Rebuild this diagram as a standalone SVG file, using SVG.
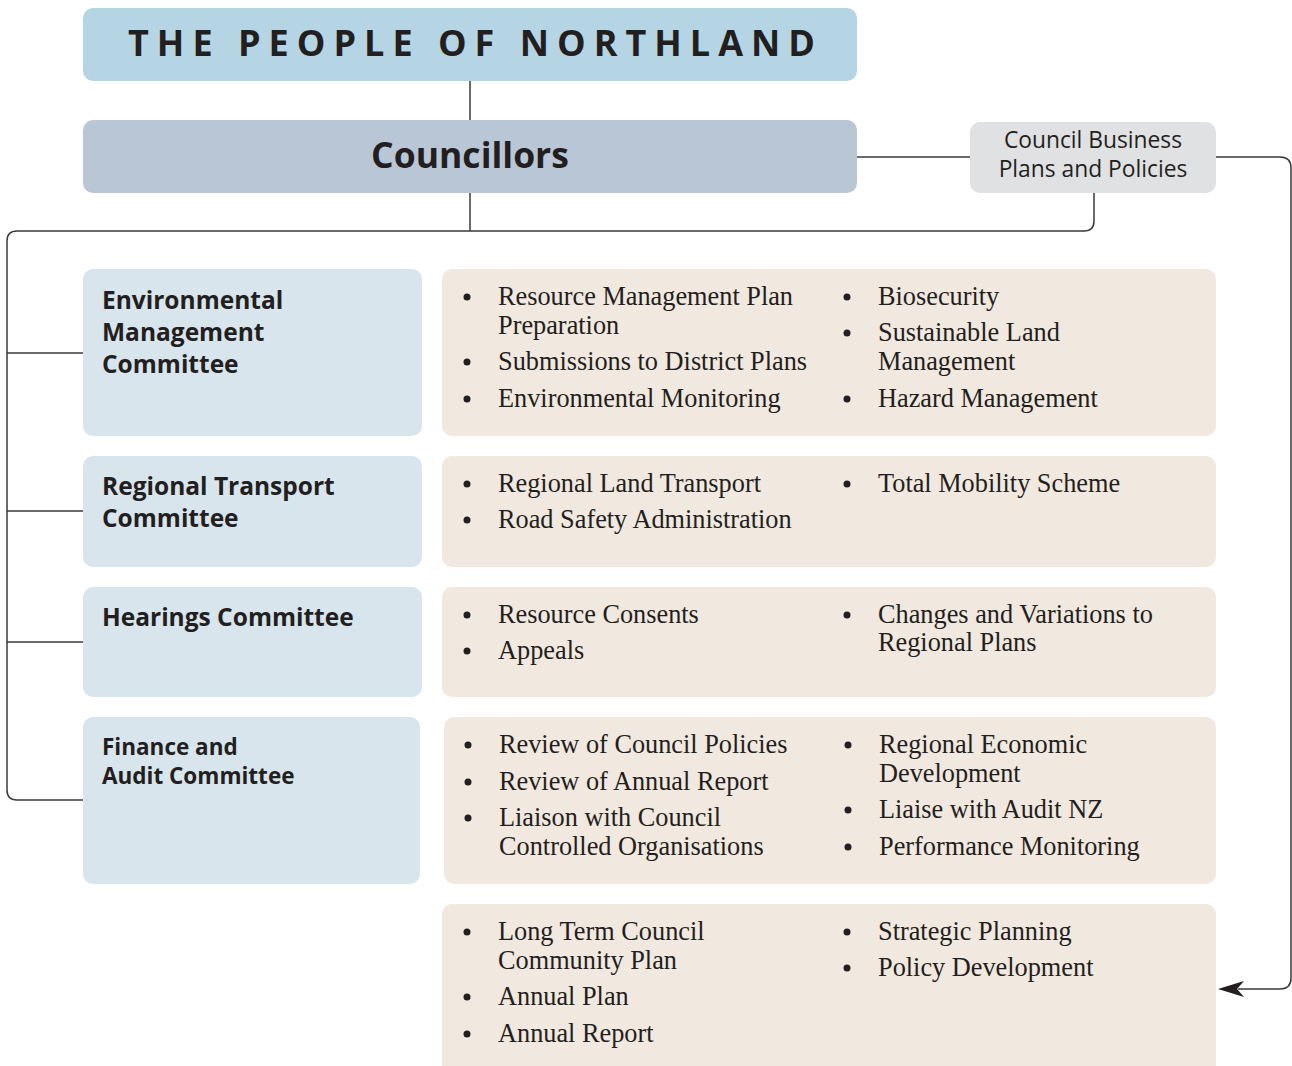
<svg xmlns="http://www.w3.org/2000/svg" width="1292" height="1066" viewBox="0 0 1292 1066">
<style>
.conn{fill:none;stroke:#3a3a3a;stroke-width:1.5}
.cm{fill:#d8e5ed}
.ct{fill:#f1e8df}
.h{font-family:"Open Sans","Noto Sans",sans-serif;font-weight:bold;fill:#231f20}
.b{font-family:"Liberation Serif","DejaVu Serif",serif;font-size:26.3px;fill:#231f20}
.d{fill:#231f20}
</style>
<g id="connectors">
<line class="conn" x1="470" y1="81" x2="470" y2="120"/>
<line class="conn" x1="470" y1="193" x2="470" y2="231"/>
<line class="conn" x1="857" y1="157" x2="970" y2="157"/>
<path class="conn" d="M1094,193 V221 Q1094,231 1084,231 H17 Q7,231 7,241 V790 Q7,800 17,800 H83"/>
<line class="conn" x1="7" y1="353" x2="83" y2="353"/>
<line class="conn" x1="7" y1="511" x2="83" y2="511"/>
<line class="conn" x1="7" y1="642" x2="83" y2="642"/>
<path class="conn" d="M1216,157 H1280 Q1291,157 1291,168 V978 Q1291,989 1280,989 H1238"/>
<path d="M1218,989 L1244,981 L1237,989 L1244,997 Z" fill="#231f20"/>
</g>
<g id="people">
<rect x="83" y="8" width="774" height="73" rx="10" fill="#b5d5e4"/>
<text class="h" x="128" y="56" font-size="36" textLength="687" lengthAdjust="spacing">THE PEOPLE OF NORTHLAND</text>
</g>
<g id="councillors">
<rect x="83" y="120" width="774" height="73" rx="10" fill="#b8c6d6"/>
<text class="h" x="470" y="168" font-size="35.5" text-anchor="middle">Councillors</text>
</g>
<g id="business">
<rect x="970" y="122" width="246" height="71" rx="10" fill="#e0e1e3"/>
<text x="1093" y="148" font-family="'Open Sans','Noto Sans',sans-serif" font-size="22.8" fill="#231f20" text-anchor="middle">Council Business</text>
<text x="1093" y="177" font-family="'Open Sans','Noto Sans',sans-serif" font-size="22.8" fill="#231f20" text-anchor="middle">Plans and Policies</text>
</g>
<g id="env">
<rect class="cm" x="83" y="269" width="339" height="167" rx="10"/>
<text class="h" font-size="24.5"><tspan x="102" y="309">Environmental</tspan><tspan x="102" y="341">Management</tspan><tspan x="102" y="373">Committee</tspan></text>
</g>
<g id="env-items">
<rect class="ct" x="442" y="269" width="774" height="167" rx="10"/>
<circle class="d" cx="467" cy="297" r="3.5"/><circle class="d" cx="467" cy="362" r="3.5"/><circle class="d" cx="467" cy="399" r="3.5"/>
<circle class="d" cx="847" cy="297" r="3.5"/><circle class="d" cx="847" cy="333" r="3.5"/><circle class="d" cx="847" cy="399" r="3.5"/>
<text class="b"><tspan x="498" y="305">Resource Management Plan</tspan><tspan x="498" y="334">Preparation</tspan><tspan x="498" y="370">Submissions to District Plans</tspan><tspan x="498" y="407">Environmental Monitoring</tspan></text>
<text class="b"><tspan x="878" y="305">Biosecurity</tspan><tspan x="878" y="341">Sustainable Land</tspan><tspan x="878" y="370">Management</tspan><tspan x="878" y="407">Hazard Management</tspan></text>
</g>
<g id="transport">
<rect class="cm" x="83" y="456" width="339" height="111" rx="10"/>
<text class="h" font-size="24.5"><tspan x="102" y="495">Regional Transport</tspan><tspan x="102" y="527">Committee</tspan></text>
</g>
<g id="transport-items">
<rect class="ct" x="442" y="456" width="774" height="111" rx="10"/>
<circle class="d" cx="467" cy="484" r="3.5"/><circle class="d" cx="467" cy="520" r="3.5"/><circle class="d" cx="847" cy="484" r="3.5"/>
<text class="b"><tspan x="498" y="492">Regional Land Transport</tspan><tspan x="498" y="528">Road Safety Administration</tspan></text>
<text class="b" x="878" y="492">Total Mobility Scheme</text>
</g>
<g id="hearings">
<rect class="cm" x="83" y="587" width="339" height="110" rx="10"/>
<text class="h" font-size="24.5" x="102" y="626">Hearings Committee</text>
</g>
<g id="hearings-items">
<rect class="ct" x="442" y="587" width="774" height="110" rx="10"/>
<circle class="d" cx="467" cy="615" r="3.5"/><circle class="d" cx="467" cy="651" r="3.5"/><circle class="d" cx="847" cy="615" r="3.5"/>
<text class="b"><tspan x="498" y="623">Resource Consents</tspan><tspan x="498" y="659">Appeals</tspan></text>
<text class="b"><tspan x="878" y="623">Changes and Variations to</tspan><tspan x="878" y="651">Regional Plans</tspan></text>
</g>
<g id="finance">
<rect class="cm" x="83" y="717" width="337" height="167" rx="10"/>
<text class="h" font-size="22.5"><tspan x="102" y="755">Finance and</tspan><tspan x="102" y="784">Audit Committee</tspan></text>
</g>
<g id="finance-items">
<rect class="ct" x="444" y="717" width="772" height="167" rx="10"/>
<circle class="d" cx="468" cy="745" r="3.5"/><circle class="d" cx="468" cy="782" r="3.5"/><circle class="d" cx="468" cy="818" r="3.5"/>
<circle class="d" cx="848" cy="745" r="3.5"/><circle class="d" cx="848" cy="810" r="3.5"/><circle class="d" cx="848" cy="847" r="3.5"/>
<text class="b"><tspan x="499" y="753">Review of Council Policies</tspan><tspan x="499" y="790">Review of Annual Report</tspan><tspan x="499" y="826">Liaison with Council</tspan><tspan x="499" y="855">Controlled Organisations</tspan></text>
<text class="b"><tspan x="879" y="753">Regional Economic</tspan><tspan x="879" y="782">Development</tspan><tspan x="879" y="818">Liaise with Audit NZ</tspan><tspan x="879" y="855">Performance Monitoring</tspan></text>
</g>
<g id="council-items">
<rect class="ct" x="442" y="904" width="774" height="180" rx="10"/>
<circle class="d" cx="467" cy="932" r="3.5"/><circle class="d" cx="467" cy="997" r="3.5"/><circle class="d" cx="467" cy="1034" r="3.5"/>
<circle class="d" cx="847" cy="932" r="3.5"/><circle class="d" cx="847" cy="968" r="3.5"/>
<text class="b"><tspan x="498" y="940">Long Term Council</tspan><tspan x="498" y="969">Community Plan</tspan><tspan x="498" y="1005">Annual Plan</tspan><tspan x="498" y="1042">Annual Report</tspan></text>
<text class="b"><tspan x="878" y="940">Strategic Planning</tspan><tspan x="878" y="976">Policy Development</tspan></text>
</g>
</svg>
